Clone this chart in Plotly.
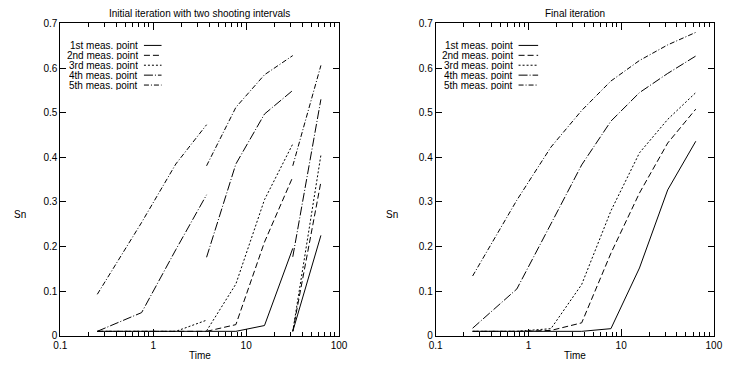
import plotly.graph_objects as go

# ---------------- data ----------------
# Time points of the measurements
t_int1 = [0.25, 0.75, 1.75, 3.75]
t_int2 = [3.75, 7.75, 15.75, 31.75]
t_int3 = [31.75, 63.75]
t_all = [0.25, 0.75, 1.75, 3.75, 7.75, 15.75, 31.75, 63.75]

series_names = ["1st meas. point", "2nd meas. point", "3rd meas. point",
                "4th meas. point", "5th meas. point"]

# Initial iteration (three shooting segments)
init_int1 = {
    "1st meas. point": [0.01, 0.01, 0.01, 0.01],
    "2nd meas. point": [0.01, 0.01, 0.01, 0.01],
    "3rd meas. point": [0.01, 0.01, 0.01, 0.035],
    "4th meas. point": [0.01, 0.052, 0.193, 0.316],
    "5th meas. point": [0.093, 0.254, 0.385, 0.473],
}
init_int2 = {
    "1st meas. point": [0.01, 0.01, 0.023, 0.196],
    "2nd meas. point": [0.01, 0.025, 0.21, 0.356],
    "3rd meas. point": [0.011, 0.116, 0.305, 0.43],
    "4th meas. point": [0.176, 0.385, 0.497, 0.55],
    "5th meas. point": [0.381, 0.512, 0.585, 0.628],
}
init_int3 = {
    "1st meas. point": [0.01, 0.225],
    "2nd meas. point": [0.01, 0.345],
    "3rd meas. point": [0.01, 0.405],
    "4th meas. point": [0.177, 0.530],
    "5th meas. point": [0.381, 0.606],
}

# Final iteration
final_vals = {
    "1st meas. point": [0.01, 0.01, 0.01, 0.01, 0.016, 0.152, 0.327, 0.436],
    "2nd meas. point": [0.01, 0.01, 0.012, 0.029, 0.185, 0.32, 0.432, 0.508],
    "3rd meas. point": [0.01, 0.01, 0.016, 0.115, 0.28, 0.41, 0.485, 0.545],
    "4th meas. point": [0.017, 0.105, 0.251, 0.383, 0.481, 0.545, 0.588, 0.627],
    "5th meas. point": [0.134, 0.304, 0.423, 0.505, 0.571, 0.617, 0.652, 0.680],
}

titles = ["Initial iteration with two shooting intervals", "Final iteration"]
x_ticks = [0.1, 1, 10, 100]
x_tick_text = ["0.1", "1", "10", "100"]
x_minor_ticks = [m * d for d in (0.1, 1, 10) for m in range(2, 10)]
y_ticks = [0, 0.1, 0.2, 0.3, 0.4, 0.5, 0.6, 0.7]
y_tick_text = ["0", "0.1", "0.2", "0.3", "0.4", "0.5", "0.6", "0.7"]

# ---------------- styling ----------------
FONT = "Liberation Sans, Arial, sans-serif"
dashes = {
    "1st meas. point": "solid",
    "2nd meas. point": "6px,3px",
    "3rd meas. point": "2px,2px",
    "4th meas. point": "9px,2px,1px,2px",
    "5th meas. point": "5px,2px,1px,2px",
}

W, H = 732, 386
def px_x(p):
    return p / W
def px_y(p):
    return 1 - p / H

dom_left = [px_x(54.5), px_x(339.5)]
dom_right = [px_x(438.3), px_x(722.7)]
dom_y = [px_y(340.5), px_y(19)]

fig = go.Figure()

# Left panel: initial iteration, segments separated by None
for name in series_names:
    xs = t_int1 + [None] + t_int2 + [None] + t_int3
    ys = init_int1[name] + [None] + init_int2[name] + [None] + init_int3[name]
    fig.add_trace(go.Scatter(x=xs, y=ys, mode="lines", name=name,
                             line=dict(color="black", width=1, dash=dashes[name]),
                             connectgaps=False, showlegend=False,
                             xaxis="x", yaxis="y"))

# Right panel: final iteration
for name in series_names:
    fig.add_trace(go.Scatter(x=t_all, y=final_vals[name], mode="lines", name=name,
                             line=dict(color="black", width=1, dash=dashes[name]),
                             showlegend=False, xaxis="x2", yaxis="y2"))

axis_common = dict(showline=True, linecolor="black", linewidth=1, mirror="allticks",
                   ticks="inside", tickcolor="black", showgrid=False, zeroline=False,
                   tickfont=dict(family=FONT, size=10, color="black"))

xaxis_common = dict(axis_common, type="log", range=[-1, 2], tickmode="array",
                    tickvals=x_ticks, ticktext=x_tick_text, ticklen=7,
                    ticklabeloverflow="allow",
                    minor=dict(tickmode="array", tickvals=x_minor_ticks,
                               ticks="inside", ticklen=4, tickcolor="black",
                               showgrid=False))
yaxis_common = dict(axis_common, range=[0, 0.7], tickmode="array", tickvals=y_ticks,
                    ticktext=y_tick_text, ticklen=6)

fig.update_layout(
    width=W, height=H,
    margin=dict(l=0, r=0, t=0, b=0),
    paper_bgcolor="white", plot_bgcolor="white",
    font=dict(family=FONT, size=10, color="black"),
    showlegend=False,
    xaxis=dict(xaxis_common, domain=dom_left, anchor="y"),
    yaxis=dict(yaxis_common, domain=dom_y, anchor="x"),
    xaxis2=dict(xaxis_common, domain=dom_right, anchor="y2"),
    yaxis2=dict(yaxis_common, domain=dom_y, anchor="x2"),
)

annotations = []
shapes = []
# titles and axis labels
for dom, title in zip([dom_left, dom_right], titles):
    cx = (dom[0] + dom[1]) / 2
    annotations.append(dict(x=cx, y=px_y(9), xref="paper", yref="paper", text=title,
                            showarrow=False, xanchor="center", yanchor="middle",
                            font=dict(family=FONT, size=10, color="black")))
    annotations.append(dict(x=cx, y=px_y(361), xref="paper", yref="paper", text="Time",
                            showarrow=False, xanchor="center", yanchor="middle",
                            font=dict(family=FONT, size=10, color="black")))

for xlab in [13, 394]:
    annotations.append(dict(x=px_x(xlab), y=px_y(216), xref="paper", yref="paper",
                            text="Sn", showarrow=False, xanchor="center",
                            yanchor="middle",
                            font=dict(family=FONT, size=10, color="black")))

# manual keys (text right-aligned, sample line to the right)
key_cfg = [(135, 140, 158), (518, 523, 543)]
row_y = [41.6, 51.8, 62.0, 72.2, 82.4]
for (txt_right, l0, l1) in key_cfg:
    for name, ry in zip(series_names, row_y):
        annotations.append(dict(x=px_x(txt_right), y=px_y(ry), xref="paper",
                                yref="paper", text=name, showarrow=False,
                                xanchor="right", yanchor="middle", height=9,
                                valign="middle", borderpad=0,
                                font=dict(family=FONT, size=10, color="black")))
        shapes.append(dict(type="line", xref="paper", yref="paper",
                           x0=px_x(l0), x1=px_x(l1), y0=px_y(ry), y1=px_y(ry),
                           line=dict(color="black", width=1, dash=dashes[name])))

fig.update_layout(annotations=annotations, shapes=shapes)

fig.write_html("out.html",
               config={"displayModeBar": False},
               post_script="document.body.style.margin='0';"
                           "document.body.style.overflow='hidden';")
